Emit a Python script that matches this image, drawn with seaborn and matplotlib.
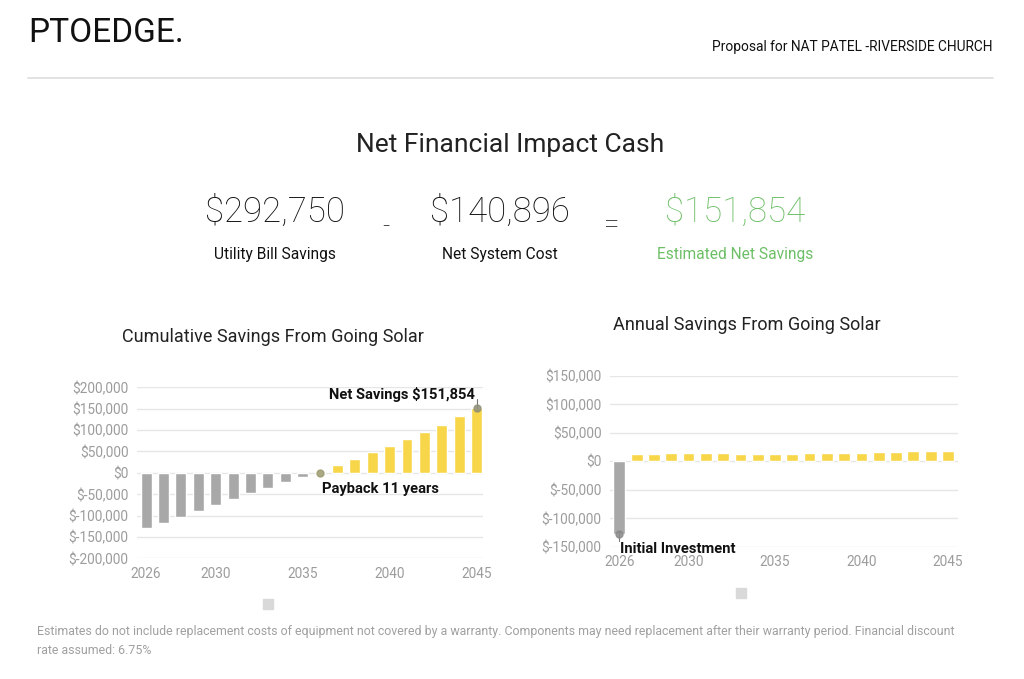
import numpy as np
import pandas as pd
import matplotlib
matplotlib.use("Agg")
import matplotlib.pyplot as plt
import seaborn as sns
from matplotlib.patches import Rectangle
from matplotlib.ticker import FuncFormatter

years = list(range(2026, 2046))
cumulative = [-129000, -117000, -104000, -90000, -76000, -62000, -48000, -35000, -22000, -9000,
              3000, 18000, 33000, 48000, 63000, 80000, 96000, 113000, 132000, 151854]
annual = [-128000, 12300, 12900, 14000, 14000, 14600, 14600, 12300, 12900, 12900,
          13500, 14000, 14600, 14600, 15200, 15800, 17000, 17600, 18200, 18800]

left_ticks = [-200000, -150000, -100000, -50000, 0, 50000, 100000, 150000, 200000]
right_ticks = [-150000, -100000, -50000, 0, 50000, 100000, 150000]
year_ticks = [2026, 2030, 2035, 2040, 2045]

totals = ["$292,750", "$140,896", "$151,854"]
total_labels = ["Utility Bill Savings", "Net System Cost", "Estimated Net Savings"]

YELLOW = "#f7d64a"
GREY = "#a8a8a8"
GREEN = "#6dbf67"
TICK = "#9c9c9c"

sns.set_theme(style="white")
plt.rcParams["font.family"] = ["Roboto", "DejaVu Sans"]

fig = plt.figure(figsize=(10.24, 6.79), dpi=100)


def money(v, pos=None):
    if v < 0:
        return f"$-{abs(v):,.0f}"
    return f"${v:,.0f}"


def style_axis(ax, ticks, lims, xlims):
    ax.set_ylim(*lims)
    ax.set_xlim(*xlims)
    ax.set_yticks(ticks)
    ax.set_xticks(year_ticks)
    ax.set_xticklabels([str(y) for y in year_ticks])
    ax.yaxis.set_major_formatter(FuncFormatter(money))
    ax.grid(axis="y", color="#e6e6e6", linewidth=1)
    ax.grid(axis="x", visible=False)
    for s in ax.spines.values():
        s.set_visible(False)
    ax.tick_params(axis="both", length=0, colors=TICK, labelsize=9.8, pad=6)
    ax.set_xlabel("")
    ax.set_ylabel("")
    ax.set_axisbelow(True)


# cumulative chart
df_c = pd.DataFrame({"year": years, "value": cumulative})
df_c["kind"] = np.where(df_c["value"] < 0, "neg", "pos")
ax1 = fig.add_axes([0.1338, 0.1777, 0.3379, 0.2518])
sns.barplot(data=df_c, x="year", y="value", hue="kind", native_scale=True,
            palette={"neg": GREY, "pos": YELLOW}, width=0.63, legend=False,
            saturation=1, ax=ax1)
style_axis(ax1, left_ticks, (-200000, 200000), (2025.48, 2045.37))
ax1.set_title("Cumulative Savings From Going Solar", fontsize=13, color="#222222",
              pad=33, x=0.393)

# net savings marker
ax1.plot([years[-1], years[-1]], [cumulative[-1], cumulative[-1] + 22000], color="#777777", lw=0.8)
ax1.plot(years[-1], cumulative[-1], "o", color="#8f8f78", ms=5, alpha=0.85)
ax1.text(years[-1] - 0.1, 183000, f"Net Savings ${cumulative[-1]:,}", ha="right", va="center",
         fontsize=10.6, fontweight="bold", color="#111111", clip_on=False)
# payback marker
ax1.plot(2036, 0, "o", color="#9c9a6e", ms=5, alpha=0.85)
ax1.text(2036.1, -37000, "Payback 11 years", ha="left", va="center",
         fontsize=10.6, fontweight="bold", color="#111111")

# annual chart
df_a = pd.DataFrame({"year": years, "value": annual})
df_a["kind"] = np.where(df_a["value"] < 0, "neg", "pos")
ax2 = fig.add_axes([0.5957, 0.1949, 0.3398, 0.2514])
sns.barplot(data=df_a, x="year", y="value", hue="kind", native_scale=True,
            palette={"neg": GREY, "pos": YELLOW}, width=0.68, legend=False,
            saturation=1, ax=ax2)
style_axis(ax2, right_ticks, (-150000, 150000), (2025.46, 2045.58))
ax2.set_title("Annual Savings From Going Solar", fontsize=13, color="#222222",
              pad=33, x=0.394)

ax2.plot([years[0], years[0]], [annual[0], annual[0] - 12000], color="#777777", lw=0.8)
ax2.plot(years[0], annual[0], "o", color="#8a8a8a", ms=5, alpha=0.85)
ax2.text(years[0] + 0.05, -154000, "Initial Investment", ha="left", va="center",
         fontsize=10.6, fontweight="bold", color="#111111", clip_on=False)

# empty legend squares
fig.add_artist(Rectangle((263 / 1024, 1 - 609 / 679), 10 / 1024, 10 / 679,
                         transform=fig.transFigure, color="#d9d9d9"))
fig.add_artist(Rectangle((736 / 1024, 1 - 598 / 679), 10 / 1024, 10 / 679,
                         transform=fig.transFigure, color="#d9d9d9"))

# header
fig.text(28 / 1024, 1 - 33 / 679, "PTOEDGE.", fontsize=24,
         color="#111111", ha="left", va="center")
fig.text(993 / 1024, 1 - 47 / 679, "Proposal for NAT PATEL -RIVERSIDE CHURCH", fontsize=9.9,
         color="#111111", ha="right", va="center")
fig.add_artist(plt.Line2D([28 / 1024, 993 / 1024], [1 - 78 / 679, 1 - 78 / 679],
                          transform=fig.transFigure, color="#dddddd", lw=1.2))

fig.text(510 / 1024, 1 - 145 / 679, "Net Financial Impact Cash", fontsize=19,
         color="#222222", ha="center", va="center")

xs = [275, 500, 735]
colors = ["#111111", "#111111", GREEN]
for x, t, lab, c in zip(xs, totals, total_labels, colors):
    fig.text(x / 1024, 1 - 212 / 679, t, fontsize=25, fontweight="light", color=c,
             ha="center", va="center")
    fig.text(x / 1024, 1 - 254 / 679, lab, fontsize=11.2, color=c, ha="center", va="center")
fig.text(386 / 1024, 1 - 227 / 679, "-", fontsize=18, fontweight="light", color="#111111",
         ha="center", va="center")
fig.text(612 / 1024, 1 - 226 / 679, "=", fontsize=20, fontweight="light", color="#111111",
         ha="center", va="center")

# footer
fig.text(37 / 1024, 1 - 632 / 679,
         "Estimates do not include replacement costs of equipment not covered by a warranty. "
         "Components may need replacement after their warranty period. Financial discount",
         fontsize=8.9, color="#a0a0a0", ha="left", va="center")
fig.text(37 / 1024, 1 - 650 / 679, "rate assumed: 6.75%", fontsize=8.9, color="#a0a0a0",
         ha="left", va="center")

fig.savefig("out.png", dpi=100, facecolor="white")
